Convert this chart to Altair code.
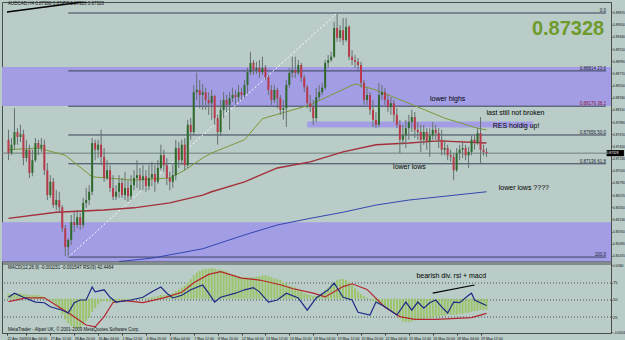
import json
import altair as alt
import pandas as pd

# ---------------- data ----------------
first_open = 0.8757
close = [0.8733,0.8748,0.8771,0.8762,0.8767,0.8724,0.8739,0.8697,0.8720,0.8751,
0.8742,0.8748,0.8702,0.8657,0.8681,0.8639,0.8648,0.8635,0.8597,0.8563,
0.8576,0.8608,0.8603,0.8617,0.8603,0.8643,0.8648,0.8663,0.8751,0.8739,
0.8748,0.8726,0.8688,0.8702,0.8670,0.8654,0.8663,0.8679,0.8657,0.8670,
0.8655,0.8675,0.8688,0.8693,0.8684,0.8691,0.8673,0.8688,0.8695,0.8681,
0.8706,0.8729,0.8711,0.8688,0.8681,0.8693,0.8742,0.8720,0.8748,0.8711,
0.8784,0.8771,0.8843,0.8847,0.8838,0.8843,0.8829,0.8823,0.8836,0.8796,
0.8771,0.8811,0.8829,0.8820,0.8832,0.8838,0.8834,0.8843,0.8838,0.8856,
0.8879,0.8896,0.8883,0.8887,0.8879,0.8887,0.8870,0.8847,0.8829,0.8847,
0.8832,0.8811,0.8814,0.8856,0.8878,0.8883,0.8878,0.8892,0.8869,0.8852,
0.8823,0.8816,0.8796,0.8834,0.8843,0.8851,0.8896,0.8901,0.8907,0.8959,
0.8941,0.8955,0.8937,0.8961,0.8907,0.8901,0.8898,0.8892,0.8860,0.8829,
0.8838,0.8811,0.8793,0.8784,0.8838,0.8843,0.8829,0.8816,0.8823,0.8802,
0.8784,0.8757,0.8765,0.8778,0.8789,0.8798,0.8775,0.8771,0.8757,0.8771,
0.8753,0.8765,0.8775,0.8769,0.8757,0.8739,0.8742,0.8729,0.8726,0.8702,
0.8733,0.8739,0.8742,0.8729,0.8735,0.8757,0.8751,0.8769,0.8739,0.8735,
0.87328]
high = [0.8775,0.8760,0.8814,0.8778,0.8784,0.8775,0.8757,0.8748,0.8739,0.8760,
0.8757,0.8760,0.8757,0.8715,0.8693,0.8688,0.8666,0.8663,0.8639,0.8603,
0.8579,0.8621,0.8626,0.8630,0.8625,0.8652,0.8670,0.8675,0.8760,0.8757,
0.8757,0.8775,0.8742,0.8720,0.8711,0.8693,0.8675,0.8693,0.8688,0.8699,
0.8684,0.8693,0.8702,0.8720,0.8706,0.8711,0.8702,0.8711,0.8717,0.8711,
0.8720,0.8748,0.8739,0.8724,0.8699,0.8711,0.8757,0.8753,0.8757,0.8760,
0.8793,0.8796,0.8856,0.8878,0.8865,0.8858,0.8851,0.8843,0.8847,0.8838,
0.8802,0.8829,0.8843,0.8838,0.8843,0.8851,0.8847,0.8856,0.8851,0.8865,
0.8887,0.8916,0.8901,0.8898,0.8901,0.8907,0.8892,0.8874,0.8856,0.8856,
0.8851,0.8838,0.8829,0.8865,0.8887,0.8907,0.8907,0.8901,0.8896,0.8874,
0.8856,0.8838,0.8829,0.8851,0.8856,0.8860,0.8901,0.8910,0.8916,0.8970,
0.8986,0.8964,0.8977,0.8977,0.8964,0.8919,0.8910,0.8905,0.8898,0.8865,
0.8851,0.8843,0.8829,0.8807,0.8860,0.8856,0.8851,0.8838,0.8834,0.8829,
0.8814,0.8793,0.8784,0.8793,0.8802,0.8811,0.8807,0.8789,0.8784,0.8784,
0.8778,0.8778,0.8789,0.8784,0.8778,0.8775,0.8757,0.8748,0.8739,0.8733,
0.8742,0.8748,0.8753,0.8748,0.8744,0.8765,0.8765,0.8778,0.8798,0.8748,
0.8742]
low = [0.8720,0.8729,0.8739,0.8748,0.8753,0.8711,0.8717,0.8688,0.8691,0.8717,
0.8729,0.8735,0.8693,0.8648,0.8652,0.8634,0.8630,0.8626,0.8590,0.8547,
0.8545,0.8567,0.8590,0.8597,0.8594,0.8597,0.8634,0.8639,0.8657,0.8720,
0.8724,0.8711,0.8681,0.8684,0.8663,0.8648,0.8648,0.8652,0.8652,0.8648,
0.8645,0.8648,0.8666,0.8670,0.8666,0.8666,0.8663,0.8666,0.8673,0.8663,
0.8677,0.8702,0.8699,0.8675,0.8666,0.8670,0.8684,0.8706,0.8711,0.8702,
0.8706,0.8757,0.8765,0.8829,0.8814,0.8811,0.8811,0.8802,0.8793,0.8784,
0.8748,0.8764,0.8796,0.8807,0.8775,0.8825,0.8820,0.8825,0.8829,0.8832,
0.8841,0.8874,0.8874,0.8876,0.8869,0.8874,0.8865,0.8838,0.8820,0.8823,
0.8814,0.8802,0.8793,0.8780,0.8851,0.8869,0.8869,0.8874,0.8861,0.8843,
0.8814,0.8807,0.8784,0.8789,0.8829,0.8838,0.8847,0.8887,0.8898,0.8905,
0.8934,0.8934,0.8928,0.8934,0.8901,0.8892,0.8887,0.8883,0.8851,0.8820,
0.8820,0.8802,0.8780,0.8778,0.8780,0.8829,0.8820,0.8807,0.8802,0.8789,
0.8778,0.8733,0.8748,0.8742,0.8757,0.8771,0.8760,0.8757,0.8735,0.8748,
0.8739,0.8726,0.8757,0.8757,0.8742,0.8729,0.8729,0.8720,0.8717,0.8684,
0.8699,0.8720,0.8724,0.8720,0.8706,0.8729,0.8739,0.8748,0.8715,0.8728,
0.8726]

ma_green_i = [0,10,19,28,42,54,59,65,68,79,85,101,110,116,123,134,146,157,160]
ma_green_v = [0.8739,0.8742,0.8729,0.8690,0.8684,0.8688,0.8702,0.8724,0.8733,0.8757,
              0.8795,0.8820,0.8843,0.8858,0.8847,0.8823,0.8796,0.8778,0.8775]
ma_red_i = [0,16,32,42,54,65,68,79,90,101,112,123,134,144,160]
ma_red_v = [0.8615,0.8626,0.8630,0.8634,0.8643,0.8657,0.8663,0.8681,0.8706,0.8717,
            0.8735,0.8748,0.8751,0.8755,0.8751]
ma_blue_i = [37,48,65,79,90,101,112,123,134,160]
ma_blue_v = [0.8537,0.8543,0.8560,0.8585,0.8603,0.8615,0.8626,0.8639,0.8648,0.8663]

macd_hist = [0.0005,0.0005,0.0006,0.0006,0.0006,0.0005,0.0005,0.0004,0.0004,0.0004,0.0004,0.0003,0.0002,0.0000,
-0.0001,-0.0004,-0.0008,-0.0012,-0.0017,-0.0022,-0.0026,-0.0029,-0.0031,-0.0032,-0.0031,-0.0028,-0.0024,-0.0020,-0.0014,-0.0010,-0.0006,-0.0003,
-0.0002,-0.0003,-0.0003,-0.0004,-0.0004,-0.0003,-0.0003,-0.0002,-0.0002,-0.0001,-0.0001,0.0000,0.0000,0.0001,0.0001,
0.0001,0.0002,0.0002,0.0003,0.0004,0.0004,0.0004,0.0005,0.0006,0.0008,
0.0010,0.0012,0.0014,0.0018,0.0021,0.0025,0.0028,0.0030,0.0031,0.0032,
0.0032,0.0033,0.0032,0.0031,0.0031,0.0030,0.0029,0.0027,0.0026,0.0025,
0.0024,0.0023,0.0023,0.0023,0.0023,0.0023,0.0024,0.0024,0.0025,0.0025,
0.0024,0.0023,0.0022,0.0021,0.0020,0.0018,0.0016,0.0014,0.0013,0.0012,
0.0010,0.0008,0.0006,0.0005,0.0004,0.0003,0.0003,0.0004,0.0006,0.0009,
0.0012,0.0015,0.0018,0.0020,0.0021,0.0021,0.0020,0.0018,0.0015,0.0011,
0.0008,0.0005,0.0003,0.0001,-0.0001,-0.0002,-0.0004,-0.0005,-0.0007,-0.0009,
-0.0011,-0.0013,-0.0015,-0.0018,-0.0021,-0.0024,-0.0025,-0.0025,-0.0024,-0.0023,
-0.0022,-0.0022,-0.0021,-0.0021,-0.0020,-0.0020,-0.0019,-0.0019,-0.0018,-0.0018,
-0.0017,-0.0017,-0.0017,-0.0017,-0.0016,-0.0016,-0.0015,-0.0015,-0.0014,-0.0013,
-0.0013,-0.0012,-0.0012,-0.00115]

signal_i = [0,6,12,17,21,26,29,32,35,39,45,52,58,62,67,71,78,84,91,95,102,106,112,115,120,126,131,136,143,150,155,160]
signal_v = [-0.0003,0.0001,0.0001,-0.0009,-0.0017,-0.0028,-0.0030,-0.0019,-0.0004,-0.0002,-0.0004,0.0001,0.0007,
            0.0017,0.0026,0.0029,0.0022,0.0020,0.0015,0.0011,0.0006,0.0002,0.0013,0.0016,0.0010,-0.0009,-0.0019,
            -0.0022,-0.0022,-0.0021,-0.0020,-0.00155]

rsi_i = [0,2,5,9,12,14,18,20,22,24,26,28,29,32,34,36,41,45,48,51,53,55,58,61,65,67,69,71,76,79,82,84,87,90,93,97,
         100,103,107,109,110,112,115,117,121,123,126,130,133,135,137,139,141,143,145,147,149,151,154,155,156,160]
rsi_v = [54,60,54,47,46,40,35,31,46,50,50,69,62,65,54,47,50,54,62,69,60,53,57,65,72,60,47,54,60,65,68,62,47,50,60,53,
         35,53,65,75,68,54,50,32,28,47,40,28,47,35,47,38,46,50,40,31,47,46,57,60,50,42]

date_ticks = [-0.5,6,14,22,30,38,46,54,62,70,78,86,94,102,110,118,126,134,142,150,158]
date_labels = ["22 Apr 2009","24 Apr 04:00","27 Apr 12:00","28 Apr 20:00","30 Apr 04:00","1 May 12:00",
               "4 May 20:00","6 May 04:00","7 May 12:00","8 May 20:00","12 May 04:00","13 May 12:00",
               "14 May 20:00","18 May 04:00","19 May 12:00","20 May 20:00","22 May 04:00","25 May 12:00",
               "26 May 20:00","28 May 04:00","29 May 12:00"]
price_ticks = [0.8987,0.8965,0.8943,0.8921,0.8899,0.8877,0.8855,0.8833,0.8811,0.8789,0.8767,
               0.8745,0.8723,0.8701,0.8679,0.8657,0.8635,0.8613,0.8591,0.8569,0.8547]

fib_levels = [0.8986, 0.88814, 0.88176, 0.87656, 0.87136, 0.8545]
fib_names = ["0.0", "0.88814  23.6", "0.88176  38.2", "0.87656  50.0", "0.87136  61.8", "100.0"]
fib_colors = ["#1d2233", "#1d2233", "#8a1530", "#1d2233", "#1d2233", "#1d2233"]
last_price = 0.87328

zone_top = [0.88884, 0.86080]
zone_bottom = [0.88180, 0.85361]

notes = ["lower highs", "last still not broken", "RES holdig up!", "lower lows", "lower lows ????"]
notes_i = [147, 169.7, 169.9, 134.2, 172.5]
notes_p = [0.8831, 0.8805, 0.8782, 0.8708, 0.8670]

# ---------------- frames ----------------
n = len(close)
opens = [first_open] + close[:-1]
candles = pd.DataFrame({
    "i": list(range(n)),
    "open": opens,
    "close": close,
    "high": [max(h, o, c) for h, o, c in zip(high, opens, close)],
    "low": [min(l, o, c) for l, o, c in zip(low, opens, close)],
    "dir": ["up" if c >= o else "down" for o, c in zip(opens, close)],
})
hist_df = pd.DataFrame({"i": list(range(len(macd_hist))), "v": macd_hist})

BG = "#B9CCC8"
PURPLE = "#A39DE6"
FONT = "Liberation Sans"

XS = alt.Scale(domain=[-0.5, 200], zero=False, nice=False)
XAX = alt.Axis(values=date_ticks,
               labelExpr=f"{json.dumps(date_labels)}[indexof({json.dumps(date_ticks)}, datum.value)]",
               labelAlign="left", labelFontSize=3.6, labelFont=FONT, labelColor="#111",
               tickSize=2, tickColor="#333", domainColor="#4a4f4e", labelPadding=1,
               labelFlush=False, labelOverlap=False, grid=False, title=None)
PS = alt.Scale(domain=[0.85361, 0.90059], range=[260, 0], zero=False, nice=False)
MS = alt.Scale(domain=[-0.00365, 0.00371], range=[331, 262], zero=False, nice=False)
RS = alt.Scale(domain=[1.5, 102.9], range=[331, 262], zero=False, nice=False)


def X(f="i"):
    return alt.X(f"{f}:Q", scale=XS, axis=XAX)


def Yp(f, axis=None):
    return alt.Y(f"{f}:Q", scale=PS, axis=axis)


def line_df(ii, vv):
    return pd.DataFrame({"i": ii, "v": vv})


layers = []

# zones
zones = pd.DataFrame({"t": zone_top, "b": zone_bottom})
layers.append(alt.Chart(zones).mark_rect(color=PURPLE).encode(y=Yp("t"), y2="b"))
res = pd.DataFrame({"i": [100], "i2": [175.5], "t": [0.87900], "b": [0.87791]})
layers.append(alt.Chart(res).mark_rect(color=PURPLE).encode(x=X(), x2="i2", y=Yp("t"), y2="b"))

# fib lines
fib = pd.DataFrame({"i": [20] * 6, "i2": [200] * 6, "v": fib_levels, "name": fib_names, "c": fib_colors})
layers.append(alt.Chart(fib).mark_rule(color="#3a4058", strokeWidth=1).encode(x=X(), x2="i2", y=Yp("v")))
# price line
layers.append(alt.Chart(pd.DataFrame({"v": [last_price]})).mark_rule(color="#6f7d7b", strokeWidth=1)
              .encode(y=Yp("v")))
# fib diagonal
layers.append(alt.Chart(line_df([20, 110], [0.8545, 0.8986])).mark_line(color="white", strokeWidth=1, strokeDash=[2, 2])
              .encode(x=X(), y=Yp("v")))
# trend line top-left
layers.append(alt.Chart(line_df([-0.5, 35], [0.8988, 0.9013])).mark_line(color="black", strokeWidth=1.5, clip=True)
              .encode(x=X(), y=Yp("v")))
# moving averages
layers.append(alt.Chart(line_df(ma_blue_i, ma_blue_v)).mark_line(color="#3447b0", strokeWidth=1, clip=True)
              .encode(x=X(), y=Yp("v")))
layers.append(alt.Chart(line_df(ma_red_i, ma_red_v)).mark_line(color="#a3303a", strokeWidth=1.4)
              .encode(x=X(), y=Yp("v")))
layers.append(alt.Chart(line_df(ma_green_i, ma_green_v)).mark_line(color="#7a9a35", strokeWidth=1)
              .encode(x=X(), y=Yp("v")))
# candles
price_axis = alt.Axis(orient="right", values=price_ticks, format=".5f", labelFontSize=3.3, labelFont=FONT,
                      labelColor="#111", tickSize=1, tickColor="#333", domainColor="#4a4f4e",
                      labelPadding=0.5, labelFlush=False, labelOverlap=False, grid=False, title=None)
layers.append(alt.Chart(candles).mark_rule(color="#66716f", strokeWidth=1)
              .encode(x=X(), y=Yp("low", price_axis), y2="high"))
layers.append(alt.Chart(candles).mark_bar(size=2)
              .encode(x=X(), y=Yp("open"), y2="close",
                      color=alt.Color("dir:N", scale=alt.Scale(domain=["up", "down"], range=["#2e6a2c", "#b8394a"]),
                                      legend=None)))
# fib labels
layers.append(alt.Chart(fib).mark_text(align="right", baseline="bottom", fontSize=4.5, font=FONT, dy=0)
              .encode(x=alt.X("i2:Q", scale=XS, axis=XAX), y=Yp("v"), text="name:N",
                      color=alt.Color("c:N", scale=None)))
# annotations
notes_df = pd.DataFrame({"i": notes_i, "v": notes_p, "t": notes})
layers.append(alt.Chart(notes_df).mark_text(fontSize=7, font=FONT, color="black", baseline="middle")
              .encode(x=X(), y=Yp("v"), text="t:N"))
layers.append(alt.Chart(pd.DataFrame({"i": [199.4], "v": [0.8946], "t": ["0.87328"]}))
              .mark_text(fontSize=20, fontWeight="bold", font=FONT, color="#6f9a2c", align="right",
                         baseline="alphabetic")
              .encode(x=X(), y=Yp("v"), text="t:N"))
layers.append(alt.Chart(pd.DataFrame({"i": [-0.2], "v": [0.9002], "t": ["AUDCAD,H4  0.87388 0.87457 0.87326 0.87328"]}))
              .mark_text(fontSize=4.5, font=FONT, color="#111", align="left", baseline="middle")
              .encode(x=X(), y=Yp("v"), text="t:N"))
# current price tag on the axis
tag = pd.DataFrame({"i": [200.2], "i2": [206], "t": [last_price + 0.00055], "b": [last_price - 0.00055],
                    "v": [last_price], "s": ["0.87328"]})
layers.append(alt.Chart(tag).mark_rect(color="black", clip=False).encode(x=X(), x2="i2", y=Yp("t"), y2="b"))
layers.append(alt.Chart(tag).mark_text(fontSize=3.3, font=FONT, color="white", align="left", baseline="middle",
                                       clip=False)
              .encode(x=X(), y=Yp("v"), text="s:N"))
# separator under main panel
layers.append(alt.Chart(pd.DataFrame({"v": [0.85361]})).mark_rule(color="#4a4f4e").encode(y=Yp("v")))

# ---------------- MACD / RSI panel ----------------
layers.append(alt.Chart(pd.DataFrame({"v": [0.00371]})).mark_rule(color="#4a4f4e")
              .encode(y=alt.Y("v:Q", scale=MS, axis=None)))
rsi_axis = alt.Axis(orient="right", values=[25, 50, 75], labelFontSize=4, labelFont=FONT, labelColor="#111",
                    tickSize=1, tickColor="#333", domainColor="#4a4f4e", labelPadding=0.5, grid=False, title=None,
                    labelFlush=False)
layers.append(alt.Chart(pd.DataFrame({"v": [25, 50, 75]})).mark_rule(color="#4c5553", strokeDash=[1, 2])
              .encode(y=alt.Y("v:Q", scale=RS, axis=rsi_axis)))
macd_axis = alt.Axis(orient="right", values=[0.0036, -0.00354], format=".5f", labelFontSize=2.9, labelFont=FONT,
                     labelColor="#111", tickSize=1, tickColor="#333", domain=False, labelPadding=0.5, grid=False,
                     title=None, labelFlush=False)
layers.append(alt.Chart(hist_df).mark_bar(size=2, color="#9cc46a")
              .encode(x=X(), y=alt.Y("v:Q", scale=MS, axis=macd_axis), y2=alt.datum(0)))
layers.append(alt.Chart(line_df(signal_i, signal_v)).mark_line(color="#b3262e", strokeWidth=1.2)
              .encode(x=X(), y=alt.Y("v:Q", scale=MS, axis=None)))
layers.append(alt.Chart(line_df(rsi_i, rsi_v)).mark_line(color="#1c2a86", strokeWidth=1.2)
              .encode(x=X(), y=alt.Y("v:Q", scale=RS, axis=None)))
layers.append(alt.Chart(line_df([142, 156], [60, 72])).mark_line(color="black", strokeWidth=1.2)
              .encode(x=X(), y=alt.Y("v:Q", scale=RS, axis=None)))
panel_txt = pd.DataFrame({"i": [-0.2, -0.2, 148.2],
                          "v": [97, 5.9, 85.3],
                          "t": ["MACD(12,26,9) -0.001151 -0.001547  RSI(9) 42.4464",
                                "MetaTrader - Alpari UK, \u00a9 2001-2009 MetaQuotes Software Corp.",
                                "bearish div. rsi + macd"]})
layers.append(alt.Chart(panel_txt.iloc[:2]).mark_text(fontSize=4.5, font=FONT, color="#111", align="left",
                                                      baseline="middle")
              .encode(x=X(), y=alt.Y("v:Q", scale=RS, axis=None), text="t:N"))
layers.append(alt.Chart(panel_txt.iloc[2:]).mark_text(fontSize=7, font=FONT, color="black", align="center",
                                                      baseline="middle")
              .encode(x=X(), y=alt.Y("v:Q", scale=RS, axis=None), text="t:N"))

chart = (alt.layer(*layers)
         .resolve_scale(y="independent", color="independent")
         .properties(width=609, height=331, background=BG,
                     autosize=alt.AutoSizeParams(type="none"),
                     padding={"left": 2, "top": 2, "right": 14, "bottom": 7})
         .configure_view(stroke="#4a4f4e", strokeWidth=1, fill=BG))

chart.save("out.html", embed_options={"renderer": "svg", "actions": False})
